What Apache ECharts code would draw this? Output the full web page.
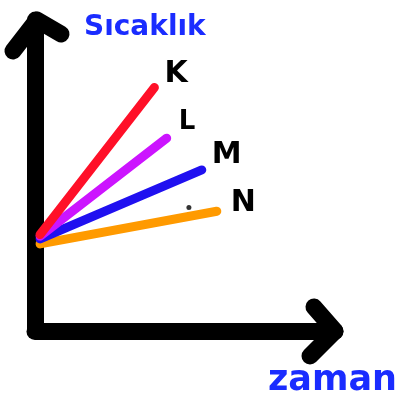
<!DOCTYPE html>
<html>
<head>
<meta charset="utf-8">
<script src="https://cdn.jsdelivr.net/npm/echarts@6/dist/echarts.min.js"></script>
<style>
  html, body { margin: 0; padding: 0; background: #fff; }
  #chart { width: 398px; height: 396px; }
</style>
</head>
<body>
<div id="chart"></div>
<script>
// series names (labels at the end of each line)
const seriesNames = ['K', 'L', 'M', 'N'];
// each line: [start, end] as [zaman, sıcaklık]
const lineK = [[1.7, 31.0], [39.8, 78.3]];
const lineL = [[1.7, 30.5], [43.9, 62.0]];
const lineM = [[1.7, 29.6], [55.6, 51.8]];
const lineN = [[1.7, 28.0], [60.6, 38.5]];
// stray dot near the N line
const strayDot = [[51.3, 39.7]];

const yTitle = 'Sıcaklık';
const xTitle = 'zaman';

const W = 398, H = 396;
const GRID_LEFT = 35, GRID_TOP = 18, GRID_RIGHT = 63, GRID_BOTTOM = 65;

const colors = ['#ff1028', '#cc14ff', '#2010f0', '#ff9a00'];
const labelSizes = [30, 26, 30, 30];
const labelOffsets = [[2, -13], [4, -16], [2, -15], [6, -8]];
const lines = [lineK, lineL, lineM, lineN];

const chart = echarts.init(document.getElementById('chart'));

// hand drawn looking axis arrows (open chevrons)
const xTip = [W - GRID_RIGHT, H - GRID_BOTTOM];
const yTip = [GRID_LEFT + 2, GRID_TOP + 2];
const arrowStyle = { stroke: '#000', lineWidth: 17, lineCap: 'round', lineJoin: 'round', fill: null };

const option = {
  backgroundColor: '#fff',
  animation: false,
  title: [
    {
      text: yTitle, left: 79, top: 9,
      textStyle: { color: '#1a2cff', fontSize: 28, fontWeight: 'bold', fontFamily: 'DejaVu Sans' }
    },
    {
      text: xTitle, left: 263, top: 358,
      textStyle: { color: '#1a2cff', fontSize: 35, fontWeight: 'bold', fontFamily: 'DejaVu Sans' }
    }
  ],
  grid: { left: GRID_LEFT, top: GRID_TOP + 2, right: GRID_RIGHT, bottom: GRID_BOTTOM },
  xAxis: {
    type: 'value', min: 0, max: 100,
    axisLine: { show: true, onZero: false, lineStyle: { color: '#000', width: 17, cap: 'round' } },
    axisTick: { show: false }, axisLabel: { show: false }, splitLine: { show: false }
  },
  yAxis: {
    type: 'value', min: 0, max: 100,
    axisLine: { show: true, onZero: false, lineStyle: { color: '#000', width: 17, cap: 'round' } },
    axisTick: { show: false }, axisLabel: { show: false }, splitLine: { show: false }
  },
  graphic: [
    {
      type: 'polyline',
      shape: { points: [[yTip[0] - 24, yTip[1] + 31], yTip, [yTip[0] + 24, yTip[1] + 14]] },
      style: arrowStyle
    },
    {
      type: 'polyline',
      shape: { points: [[xTip[0] - 21, xTip[1] - 24], xTip, [xTip[0] - 25, xTip[1] + 25]] },
      style: arrowStyle
    }
  ],
  series: lines.map((d, i) => ({
    name: seriesNames[i],
    type: 'line',
    data: d,
    showSymbol: false,
    z: 3 + (lines.length - i),
    lineStyle: { color: colors[i], width: 9, cap: 'round' },
    endLabel: {
      show: true,
      formatter: '{a}',
      offset: labelOffsets[i],
      color: '#000',
      fontSize: labelSizes[i],
      fontWeight: 'bold',
      fontFamily: 'DejaVu Sans'
    }
  })).concat([{
    type: 'scatter',
    data: strayDot,
    symbolSize: 5,
    itemStyle: { color: '#000' }
  }])
};

chart.setOption(option);
</script>
</body>
</html>
